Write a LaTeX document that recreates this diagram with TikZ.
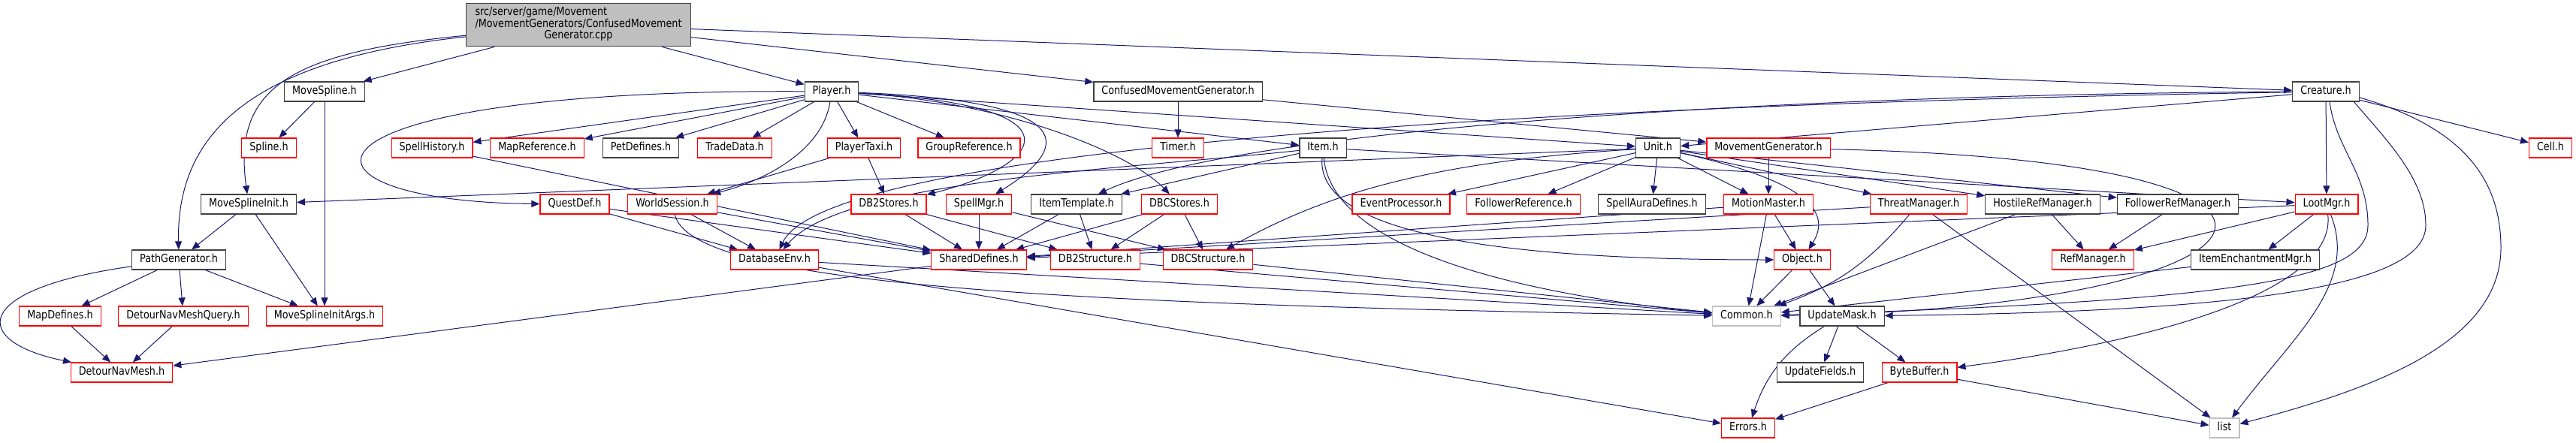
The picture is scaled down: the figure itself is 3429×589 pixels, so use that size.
\documentclass[tikz,border=0pt]{standalone}
\usepackage{fontspec}
\setmainfont{DejaVu Sans}[FakeStretch=0.85]
\usetikzlibrary{arrows.meta,backgrounds}
\definecolor{depblue}{RGB}{25,25,112}
\definecolor{srcgrey}{RGB}{191,191,191}
\tikzstyle{hdr}=[rectangle,draw=black!75,line width=1.2pt,fill=white,minimum height=26pt,inner xsep=10.5pt,inner ysep=0pt,text height=11pt,text depth=3.5pt,font=\fontsize{15}{14.6}\selectfont]
\tikzstyle{redhdr}=[hdr,draw=red]
\tikzstyle{syshdr}=[hdr,draw=srcgrey]
\tikzstyle{srcfile}=[rectangle,draw=black!75,line width=1.2pt,fill=srcgrey,inner xsep=12pt,inner ysep=5.5pt,font=\fontsize{15}{14.6}\selectfont]
\tikzstyle{dep}=[->,draw=depblue,line width=1pt]

\begin{document}
\begin{tikzpicture}[x=1pt,y=-1pt,>={Triangle[length=11pt,width=9pt]}]
  \useasboundingbox (0,0) rectangle (3429,589);
  % files
  \node [srcfile] (cpp) at (770,33) {\begin{tabular}{@{}l@{}}src/server/game/Movement\\/MovementGenerators/ConfusedMovement\\\multicolumn{1}{@{}c@{}}{Generator.cpp}\end{tabular}};
  \node [hdr]    (mspl)        at (432,122)  {MoveSpline.h};
  \node [hdr]    (player)      at (1107,122) {Player.h};
  \node [hdr]    (cmgh)        at (1568,122) {ConfusedMovementGenerator.h};
  \node [hdr]    (creature)    at (3096,122) {Creature.h};
  \node [redhdr] (spline)      at (358,197)  {Spline.h};
  \node [redhdr] (spellhist)   at (575,197)  {SpellHistory.h};
  \node [redhdr] (mapref)      at (715,197)  {MapReference.h};
  \node [hdr]    (petdef)      at (853,197)  {PetDefines.h};
  \node [redhdr] (trade)       at (978,197)  {TradeData.h};
  \node [redhdr] (taxi)        at (1150,197) {PlayerTaxi.h};
  \node [redhdr] (groupref)    at (1290,197) {GroupReference.h};
  \node [redhdr] (timer)       at (1568,197) {Timer.h};
  \node [hdr]    (item)        at (1761,197) {Item.h};
  \node [hdr]    (unit)        at (2207,197) {Unit.h};
  \node [redhdr] (movgen)      at (2354,197) {MovementGenerator.h};
  \node [redhdr] (cell)        at (3395,197) {Cell.h};
  \node [hdr]    (msinit)      at (331,272)  {MoveSplineInit.h};
  \node [redhdr] (quest)       at (765,272)  {QuestDef.h};
  \node [redhdr] (session)     at (895,272)  {WorldSession.h};
  \node [redhdr] (dbtwostores) at (1183,272) {DB2Stores.h};
  \node [redhdr] (spellmgr)    at (1303,272) {SpellMgr.h};
  \node [hdr]    (itemtpl)     at (1433,272) {ItemTemplate.h};
  \node [redhdr] (dbcstores)   at (1570,272) {DBCStores.h};
  \node [redhdr] (events)      at (1865,272) {EventProcessor.h};
  \node [redhdr] (follref)     at (2028,272) {FollowerReference.h};
  \node [hdr]    (auradef)     at (2199,272) {SpellAuraDefines.h};
  \node [redhdr] (motion)      at (2354,272) {MotionMaster.h};
  \node [redhdr] (threat)      at (2554,272) {ThreatManager.h};
  \node [hdr]    (hostmgr)     at (2719,272) {HostileRefManager.h};
  \node [hdr]    (follmgr)     at (2899,272) {FollowerRefManager.h};
  \node [redhdr] (loot)        at (3097,272) {LootMgr.h};
  \node [hdr]    (pathgen)     at (238,346)  {PathGenerator.h};
  \node [redhdr] (dbenv)       at (1031,346) {DatabaseEnv.h};
  \node [redhdr] (shared)      at (1303,346) {SharedDefines.h};
  \node [redhdr] (dbtwostruct) at (1458,346) {DB2Structure.h};
  \node [redhdr] (dbcstruct)   at (1608,346) {DBCStructure.h};
  \node [redhdr] (object)      at (2399,346) {Object.h};
  \node [redhdr] (refmgr)      at (2786,346) {RefManager.h};
  \node [hdr]    (enchmgr)     at (3002,346) {ItemEnchantmentMgr.h};
  \node [redhdr] (mapdef)      at (80,421)   {MapDefines.h};
  \node [redhdr] (navquery)    at (244,421)  {DetourNavMeshQuery.h};
  \node [redhdr] (initargs)    at (432,421)  {MoveSplineInitArgs.h};
  \node [syshdr] (common)      at (2325,421) {Common.h};
  \node [hdr]    (updmask)     at (2452,421) {UpdateMask.h};
  \node [redhdr] (navmesh)     at (162,496)  {DetourNavMesh.h};
  \node [hdr]    (updfields)   at (2423,496) {UpdateFields.h};
  \node [redhdr] (bytebuf)     at (2555,496) {ByteBuffer.h};
  \node [redhdr] (errors)      at (2327,570) {Errors.h};
  \node [syshdr] (list)        at (2961,570) {list};

  \begin{scope}[on background layer]
    % includes of the source file
    \path (cpp) edge [dep] (mspl)
          (cpp) edge [dep] (player)
          (cpp) edge [dep] (cmgh)
          (cpp) edge [dep] (creature);
    \draw [dep] (cpp) .. controls (380,70) and (310,120) .. (msinit);
    \draw [dep] (cpp) .. controls (330,80) and (235,180) .. (pathgen);

    % movement side
    \path (mspl) edge [dep] (spline)
          (mspl) edge [dep] (initargs)
          (msinit) edge [dep] (pathgen)
          (msinit) edge [dep] (initargs)
          (pathgen) edge [dep] (mapdef)
          (pathgen) edge [dep] (navquery)
          (pathgen) edge [dep] (initargs)
          (mapdef) edge [dep] (navmesh)
          (navquery) edge [dep] (navmesh)
          (shared) edge [dep] (navmesh);
    \draw [dep] (pathgen) .. controls (-40,385) and (-40,455) .. (navmesh);

    % Player.h
    \path (player) edge [dep] (spellhist)
          (player) edge [dep] (mapref)
          (player) edge [dep] (petdef)
          (player) edge [dep] (trade)
          (player) edge [dep] (taxi)
          (player) edge [dep] (groupref)
          (player) edge [dep] (item)
          (player) edge [dep] (unit);
    \draw [dep] (player) .. controls (360,118) and (360,268) .. (quest);
    \draw [dep] (player) .. controls (1095,200) and (1020,240) .. (session);
    \draw [dep] (player) .. controls (1450,140) and (1390,220) .. (dbtwostores);
    \draw [dep] (player) .. controls (1450,135) and (1420,200) .. (spellmgr);
    \draw [dep] (player) .. controls (1330,135) and (1500,200) .. (dbcstores);

    \path (spellhist) edge [dep] (shared)
          (quest) edge [dep] (dbenv)
          (quest) edge [dep] (shared)
          (session) edge [dep] (dbenv)
          (session) edge [dep] (shared)
          (taxi) edge [dep] (dbtwostores)
          (taxi) edge [dep] (session)
          (dbtwostores) edge [dep] (shared)
          (dbtwostores) edge [dep] (dbtwostruct)
          (spellmgr) edge [dep] (shared)
          (spellmgr) edge [dep] (dbcstruct)
          (itemtpl) edge [dep] (shared)
          (itemtpl) edge [dep] (dbtwostruct)
          (dbcstores) edge [dep] (shared)
          (dbcstores) edge [dep] (dbtwostruct)
          (dbcstores) edge [dep] (dbcstruct)
          (dbenv) edge [dep] (common)
          (dbenv) edge [dep] (errors)
          (dbtwostruct) edge [dep] (common)
          (dbcstruct) edge [dep] (common);
    \draw [dep] (session) .. controls (920,380) and (1400,405) .. (common);

    % Item.h, Unit.h and the generator header
    \path (cmgh) edge [dep] (timer)
          (cmgh) edge [dep] (movgen)
          (item) edge [dep] (itemtpl)
          (item) edge [dep] (loot)
          (unit) edge [dep] (msinit)
          (unit) edge [dep] (events)
          (unit) edge [dep] (follref)
          (unit) edge [dep] (auradef)
          (unit) edge [dep] (motion)
          (unit) edge [dep] (threat)
          (unit) edge [dep] (hostmgr)
          (unit) edge [dep] (follmgr)
          (movgen) edge [dep] (motion);
    \draw [dep] (item) .. controls (1500,225) and (1120,240) .. (dbenv);
    \draw [dep] (item) .. controls (1750,330) and (2100,346) .. (object);
    \draw [dep] (item) .. controls (1775,350) and (2100,400) .. (common);
    \draw [dep] (unit) .. controls (1900,215) and (1760,260) .. (dbcstruct);
    \draw [dep] (unit) .. controls (2400,240) and (2440,280) .. (object);
    \draw [dep] (movgen) .. controls (3200,215) and (3050,410) .. (common);

    % Creature.h
    \path (creature) edge [dep] (unit)
          (creature) edge [dep] (loot)
          (creature) edge [dep] (cell);
    \draw [dep] (creature) .. controls (2400,125) and (1650,170) .. (itemtpl);
    \draw [dep] (creature) .. controls (2000,140) and (1100,200) .. (dbenv);
    \draw [dep] (creature.-70) .. controls (3110,200) and (3152,230) .. (3152,300)
                .. controls (3152,370) and (3000,400) .. (common);
    \draw [dep] (creature.-20) .. controls (3180,190) and (3229,240) .. (3229,300)
                .. controls (3229,380) and (3000,415) .. (updmask);
    \draw [dep] (creature.-10) .. controls (3280,170) and (3329,240) .. (3329,330)
                .. controls (3329,460) and (3150,520) .. (list);

    % lower headers
    \path (motion) edge [dep] (shared)
          (motion) edge [dep] (common)
          (motion) edge [dep] (object)
          (threat) edge [dep] (shared)
          (threat) edge [dep, bend left=15] (common)
          (threat) edge [dep] (list)
          (hostmgr) edge [dep] (refmgr)
          (hostmgr) edge [dep] (common)
          (follmgr) edge [dep] (refmgr)
          (loot) edge [dep] (refmgr)
          (loot) edge [dep] (enchmgr)
          (loot) edge [dep] (shared)
          (enchmgr) edge [dep] (common)
          (object) edge [dep] (common)
          (object) edge [dep] (updmask)
          (updmask) edge [dep, bend right=20] (errors)
          (updmask) edge [dep] (updfields)
          (updmask) edge [dep] (bytebuf)
          (bytebuf) edge [dep] (errors)
          (bytebuf) edge [dep] (list);
    \draw [dep] (loot) .. controls (3110,380) and (2900,450) .. (bytebuf);
    \draw [dep] (loot) .. controls (3140,380) and (3050,450) .. (list);
  \end{scope}
\end{tikzpicture}
\end{document}
